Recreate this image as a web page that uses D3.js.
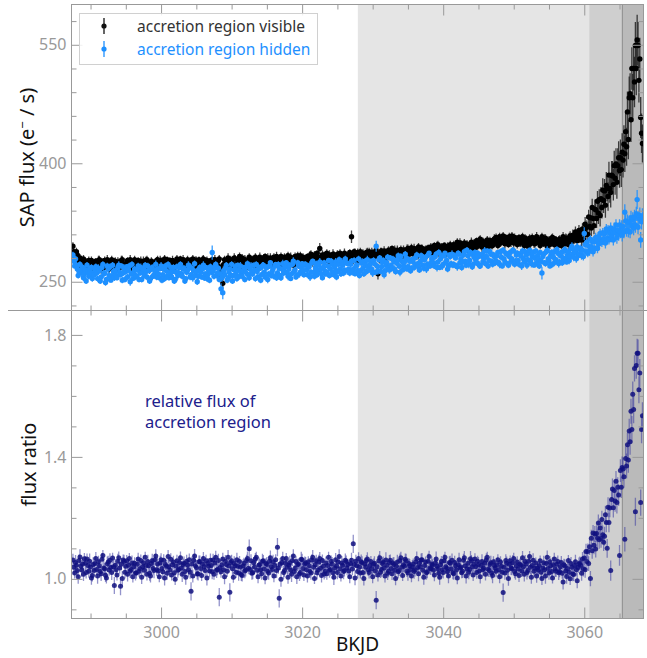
<!DOCTYPE html>
<html>
<head>
<meta charset="utf-8">
<script src="https://cdn.jsdelivr.net/npm/d3@7"></script>
<style>
  body { margin: 0; background: #fff; }
  svg text { font-family: "Noto Sans", sans-serif; }
</style>
</head>
<body>
<svg id="chart" width="647" height="658"></svg>
<script>

//  1] Data --------------------------------------------//

const bkjd = [
  2987.5,2987.625,2987.75,2987.875,2988,2988.125,2988.25,2988.375,2988.5,2988.625,2988.75,2988.875,2989,2989.125,2989.25,2989.375,2989.5,2989.625,2989.75,2989.875,2990,2990.125,2990.25,2990.375,
  2990.5,2990.625,2990.75,2990.875,2991,2991.125,2991.25,2991.375,2991.5,2991.625,2991.75,2991.875,2992,2992.125,2992.25,2992.375,2992.5,2992.625,2992.75,2992.875,2993,2993.125,2993.25,2993.375,
  2993.5,2993.625,2993.75,2993.875,2994,2994.125,2994.25,2994.375,2994.5,2994.625,2994.75,2994.875,2995,2995.125,2995.25,2995.375,2995.5,2995.625,2995.75,2995.875,2996,2996.125,2996.25,2996.375,
  2996.5,2996.625,2996.75,2996.875,2997,2997.125,2997.25,2997.375,2997.5,2997.625,2997.75,2997.875,2998,2998.125,2998.25,2998.375,2998.5,2998.625,2998.75,2998.875,2999,2999.125,2999.25,2999.375,
  2999.5,2999.625,2999.75,2999.875,3000,3000.125,3000.25,3000.375,3000.5,3000.625,3000.75,3000.875,3001,3001.125,3001.25,3001.375,3001.5,3001.625,3001.75,3001.875,3002,3002.125,3002.25,3002.375,
  3002.5,3002.625,3002.75,3002.875,3003,3003.125,3003.25,3003.375,3003.5,3003.625,3003.75,3003.875,3004,3004.125,3004.25,3004.375,3004.5,3004.625,3004.75,3004.875,3005,3005.125,3005.25,3005.375,
  3005.5,3005.625,3005.75,3005.875,3006,3006.125,3006.25,3006.375,3006.5,3006.625,3006.75,3006.875,3007,3007.125,3007.25,3007.375,3007.5,3007.625,3007.75,3007.875,3008,3008.125,3008.25,3008.375,
  3008.5,3008.625,3008.75,3008.875,3009,3009.125,3009.25,3009.375,3009.5,3009.625,3009.75,3009.875,3010,3010.125,3010.25,3010.375,3010.5,3010.625,3010.75,3010.875,3011,3011.125,3011.25,3011.375,
  3011.5,3011.625,3011.75,3011.875,3012,3012.125,3012.25,3012.375,3012.5,3012.625,3012.75,3012.875,3013,3013.125,3013.25,3013.375,3013.5,3013.625,3013.75,3013.875,3014,3014.125,3014.25,3014.375,
  3014.5,3014.625,3014.75,3014.875,3015,3015.125,3015.25,3015.375,3015.5,3015.625,3015.75,3015.875,3016,3016.125,3016.25,3016.375,3016.5,3016.625,3016.75,3016.875,3017,3017.125,3017.25,3017.375,
  3017.5,3017.625,3017.75,3017.875,3018,3018.125,3018.25,3018.375,3018.5,3018.625,3018.75,3018.875,3019,3019.125,3019.25,3019.375,3019.5,3019.625,3019.75,3019.875,3020,3020.125,3020.25,3020.375,
  3020.5,3020.625,3020.75,3020.875,3021,3021.125,3021.25,3021.375,3021.5,3021.625,3021.75,3021.875,3022,3022.125,3022.25,3022.375,3022.5,3022.625,3022.75,3022.875,3023,3023.125,3023.25,3023.375,
  3023.5,3023.625,3023.75,3023.875,3024,3024.125,3024.25,3024.375,3024.5,3024.625,3024.75,3024.875,3025,3025.125,3025.25,3025.375,3025.5,3025.625,3025.75,3025.875,3026,3026.125,3026.25,3026.375,
  3026.5,3026.625,3026.75,3026.875,3027,3027.125,3027.25,3027.375,3027.5,3027.625,3027.75,3027.875,3028,3028.125,3028.25,3028.375,3028.5,3028.625,3028.75,3028.875,3029,3029.125,3029.25,3029.375,
  3029.5,3029.625,3029.75,3029.875,3030,3030.125,3030.25,3030.375,3030.5,3030.625,3030.75,3030.875,3031,3031.125,3031.25,3031.375,3031.5,3031.625,3031.75,3031.875,3032,3032.125,3032.25,3032.375,
  3032.5,3032.625,3032.75,3032.875,3033,3033.125,3033.25,3033.375,3033.5,3033.625,3033.75,3033.875,3034,3034.125,3034.25,3034.375,3034.5,3034.625,3034.75,3034.875,3035,3035.125,3035.25,3035.375,
  3035.5,3035.625,3035.75,3035.875,3036,3036.125,3036.25,3036.375,3036.5,3036.625,3036.75,3036.875,3037,3037.125,3037.25,3037.375,3037.5,3037.625,3037.75,3037.875,3038,3038.125,3038.25,3038.375,
  3038.5,3038.625,3038.75,3038.875,3039,3039.125,3039.25,3039.375,3039.5,3039.625,3039.75,3039.875,3040,3040.125,3040.25,3040.375,3040.5,3040.625,3040.75,3040.875,3041,3041.125,3041.25,3041.375,
  3041.5,3041.625,3041.75,3041.875,3042,3042.125,3042.25,3042.375,3042.5,3042.625,3042.75,3042.875,3043,3043.125,3043.25,3043.375,3043.5,3043.625,3043.75,3043.875,3044,3044.125,3044.25,3044.375,
  3044.5,3044.625,3044.75,3044.875,3045,3045.125,3045.25,3045.375,3045.5,3045.625,3045.75,3045.875,3046,3046.125,3046.25,3046.375,3046.5,3046.625,3046.75,3046.875,3047,3047.125,3047.25,3047.375,
  3047.5,3047.625,3047.75,3047.875,3048,3048.125,3048.25,3048.375,3048.5,3048.625,3048.75,3048.875,3049,3049.125,3049.25,3049.375,3049.5,3049.625,3049.75,3049.875,3050,3050.125,3050.25,3050.375,
  3050.5,3050.625,3050.75,3050.875,3051,3051.125,3051.25,3051.375,3051.5,3051.625,3051.75,3051.875,3052,3052.125,3052.25,3052.375,3052.5,3052.625,3052.75,3052.875,3053,3053.125,3053.25,3053.375,
  3053.5,3053.625,3053.75,3053.875,3054,3054.125,3054.25,3054.375,3054.5,3054.625,3054.75,3054.875,3055,3055.125,3055.25,3055.375,3055.5,3055.625,3055.75,3055.875,3056,3056.125,3056.25,3056.375,
  3056.5,3056.625,3056.75,3056.875,3057,3057.125,3057.25,3057.375,3057.5,3057.625,3057.75,3057.875,3058,3058.125,3058.25,3058.375,3058.5,3058.625,3058.75,3058.875,3059,3059.125,3059.25,3059.375,
  3059.5,3059.625,3059.75,3059.875,3060,3060.125,3060.25,3060.375,3060.5,3060.625,3060.75,3060.875,3061,3061.125,3061.25,3061.375,3061.5,3061.625,3061.75,3061.875,3062,3062.125,3062.25,3062.375,
  3062.5,3062.625,3062.75,3062.875,3063,3063.125,3063.25,3063.375,3063.5,3063.625,3063.75,3063.875,3064,3064.125,3064.25,3064.375,3064.5,3064.625,3064.75,3064.875,3065,3065.125,3065.25,3065.375,
  3065.5,3065.625,3065.75,3065.875,3066,3066.125,3066.25,3066.375,3066.5,3066.625,3066.75,3066.875,3067,3067.125,3067.25,3067.375,3067.5,3067.625,3067.75,3067.875,3068,3068.125,3068.25
];

// SAP flux with the accretion region visible (e-/s)
const visibleFlux = [
  295,288,283,281,288,284,277,274,280,278,269,276,279,270,269,275,273,268,277,274,266,277,274,269,
  267,273,276,268,271,277,278,270,266,275,274,268,277,272,269,278,275,266,268,274,278,271,270,276,
  276,270,266,275,274,268,269,277,278,272,271,266,267,274,277,270,270,278,275,267,268,275,278,271,
  269,274,277,270,266,276,274,268,276,271,268,277,278,272,270,266,267,276,275,269,273,270,266,277,
  278,272,271,277,276,270,267,275,279,272,269,278,274,268,277,271,268,277,275,269,270,276,279,272,
  269,276,279,270,272,278,276,269,267,273,278,271,270,277,275,268,279,272,268,276,277,269,271,278,
  275,270,268,277,279,273,270,275,277,271,267,276,274,268,278,272,269,278,276,270,271,277,279,268,
  262,256,248,272,278,268,271,277,280,273,269,278,276,271,270,280,279,272,273,270,277,282,268,275,
  280,274,271,278,277,271,269,276,281,270,273,279,278,272,270,281,279,275,272,277,281,269,274,279,
  273,279,282,275,271,280,278,272,280,275,270,278,281,276,274,282,279,273,272,278,282,276,271,280,
  281,276,275,280,283,277,272,281,278,274,271,279,282,276,274,283,280,275,283,278,273,281,279,274,
  274,279,282,275,277,283,285,279,275,281,284,277,273,286,281,276,292,281,276,284,283,277,278,285,
  286,280,276,284,282,277,274,285,284,279,278,283,285,276,275,286,283,279,277,284,286,281,279,278,
  280,284,287,281,307,282,277,288,286,280,276,287,285,281,288,283,278,286,283,279,279,287,287,282,
  288,282,279,287,286,280,281,288,290,284,260,283,278,287,289,281,282,289,287,283,280,288,290,285,
  283,289,292,284,281,290,288,283,290,285,280,289,291,282,284,290,289,284,282,291,292,286,285,290,
  293,287,285,292,290,284,282,291,294,288,286,293,292,285,283,290,291,287,284,293,289,291,294,286,
  287,292,296,288,289,295,297,290,285,293,294,289,288,296,295,291,286,295,293,288,297,291,290,296,
  297,292,289,297,300,293,292,299,298,291,288,296,299,293,291,298,295,290,290,298,300,294,292,299,
  293,299,302,295,297,302,304,297,294,301,300,296,292,300,303,297,295,302,301,297,296,303,304,299,
  306,300,296,304,307,299,300,305,308,301,298,306,304,300,297,307,305,300,308,302,299,306,301,304,
  297,303,306,299,299,304,307,300,296,305,304,299,295,302,305,298,300,306,303,299,298,305,307,301,
  304,299,296,303,307,300,298,304,305,299,295,302,303,297,299,305,306,300,297,304,302,298,296,303,
  304,299,296,303,307,301,298,305,304,300,297,306,308,303,301,309,307,304,313,308,302,310,315,306,
  311,303,317,304,314,323,310,319,310,332,320,331,318,344,330,321,342,341,330,352,337,354,334,355,
  344,366,353,365,347,372,368,358,385,368,363,385,384,373,397,381,399,376,397,407,391,407,392,414,
  404,424,412,440,421,465,430,483,488,455,520,483,520,503,549,520,556,549,505,532,458,438,425
];
const visibleErr = [
  5,4,5,6,5,5,4,6,5,5,6,4,5,6,4,5,5,6,5,4,6,5,5,5,
  5,6,4,5,5,6,5,4,6,5,5,5,5,4,5,6,5,5,4,6,5,5,6,4,
  5,4,5,6,5,5,4,6,5,5,6,4,5,6,4,5,5,6,5,4,6,5,5,5,
  5,6,4,5,5,6,5,4,6,5,5,5,5,4,5,6,5,5,4,6,5,5,6,4,
  5,4,5,6,5,5,4,6,5,5,6,4,5,6,4,5,5,6,5,4,6,5,5,5,
  5,6,4,5,5,6,5,4,6,5,5,5,5,4,5,6,5,5,4,6,5,5,6,4,
  5,4,5,6,5,5,4,6,5,5,6,4,5,6,4,5,5,6,5,4,6,5,5,5,
  7,6,7,5,5,6,5,4,6,5,5,5,5,4,5,6,5,5,4,6,5,5,6,4,
  5,4,5,6,5,5,4,6,5,5,6,4,5,6,4,5,5,6,5,4,6,5,5,5,
  5,6,4,5,5,6,5,4,6,5,5,5,5,4,5,6,5,5,4,6,5,5,6,4,
  5,4,5,6,5,5,4,6,5,5,6,4,5,6,4,5,5,6,5,4,6,5,5,5,
  5,6,4,5,5,6,5,4,6,5,5,5,5,4,5,6,7,5,4,6,5,5,6,4,
  5,4,5,6,5,5,4,6,5,5,6,4,5,6,4,5,5,6,5,4,6,5,5,5,
  5,6,4,5,8,6,5,4,6,5,5,5,5,4,5,6,5,5,4,6,5,5,6,4,
  5,4,5,6,5,5,4,6,5,5,7,4,5,6,4,5,5,6,5,4,6,5,5,5,
  5,6,4,5,5,6,5,4,6,5,5,5,5,4,5,6,5,5,4,6,5,5,6,4,
  5,4,5,6,5,5,4,6,5,5,6,4,5,6,4,5,5,6,5,4,6,5,5,5,
  5,6,4,5,5,6,5,4,6,5,5,5,5,4,5,6,5,5,4,6,5,5,6,4,
  5,4,5,6,5,5,4,6,5,5,6,4,5,6,4,5,5,6,5,4,6,5,5,5,
  5,6,4,5,5,6,5,4,6,5,5,5,5,4,5,6,5,5,4,6,5,5,6,4,
  5,4,5,6,5,5,4,6,5,5,6,4,5,6,4,5,5,6,5,4,6,5,5,5,
  5,6,4,5,5,6,5,4,6,5,5,5,5,4,5,6,5,5,4,6,5,5,6,4,
  5,4,5,6,5,5,4,6,5,5,6,4,5,6,4,5,5,6,5,4,6,5,5,5,
  5,6,5,6,6,5,6,6,6,6,6,6,6,6,6,7,7,6,7,7,7,7,7,7,
  7,8,7,8,8,9,8,9,10,9,10,11,10,11,12,11,12,13,12,13,14,13,14,15,
  14,15,16,15,16,17,16,18,17,18,19,18,19,20,19,21,20,21,22,21,22,23,22,24,
  22,24,23,25,24,26,25,27,26,28,27,30,28,32,30,34,32,30,28,27,26,25,24
];

// SAP flux with the accretion region hidden (e-/s)
const hiddenFlux = [
  284,276,270,279,271,266,258,263,272,265,261,268,255,260,265,251,271,262,257,266,262,268,254,259,
  259,265,269,261,254,267,264,251,256,268,272,260,261,249,253,270,266,258,269,252,257,271,263,255,
  264,258,255,268,271,262,259,270,252,261,267,253,263,269,256,265,270,250,260,272,254,262,266,257,
  257,265,270,253,261,268,253,262,266,258,271,263,256,270,264,251,254,266,268,257,259,264,272,256,
  266,260,255,267,270,252,259,266,254,270,264,257,272,255,261,268,256,263,268,251,253,262,269,258,
  261,268,272,260,257,266,267,251,254,262,265,271,270,256,259,267,255,264,273,258,263,250,257,266,
  268,262,256,266,271,255,260,268,254,259,264,252,269,262,287,264,257,268,272,258,261,267,253,260,
  241,255,236,264,259,267,271,252,255,262,266,258,272,251,258,265,269,260,254,271,265,257,270,262,
  257,264,268,253,262,269,273,259,255,266,270,262,260,271,265,254,272,263,256,268,267,252,259,270,
  271,262,256,268,268,253,260,270,274,258,263,266,257,270,272,255,261,272,267,258,255,266,273,261,
  263,269,274,261,257,266,271,254,260,272,276,263,265,256,258,274,270,260,262,268,273,264,259,271,
  272,265,259,270,269,256,262,274,276,262,257,268,273,259,264,271,275,266,260,255,268,274,263,260,
  262,270,277,258,266,276,272,262,259,268,275,256,263,272,278,266,260,275,271,261,265,279,274,264,
  273,266,261,272,276,263,266,277,260,270,271,264,279,258,264,274,275,267,260,276,271,263,278,269,
  265,272,276,266,261,277,273,262,295,270,264,278,280,263,269,275,277,259,264,271,274,281,268,265,
  280,271,267,279,276,266,263,274,278,283,270,262,282,276,265,270,275,285,280,266,269,278,276,264,
  267,276,279,268,272,281,284,273,269,265,276,283,282,271,267,278,281,266,272,284,286,270,274,279,
  280,274,270,282,285,268,275,287,268,279,283,270,272,283,286,275,277,266,270,284,282,273,285,271,
  272,283,280,270,269,286,285,274,279,268,275,284,288,276,271,290,283,272,277,287,285,269,272,281,
  287,278,274,286,282,271,270,283,285,275,279,289,273,282,289,270,277,288,285,276,272,284,282,274,
  276,283,287,274,272,288,281,270,290,279,275,286,285,273,271,282,287,276,279,290,289,272,276,284,
  286,277,272,285,283,270,289,279,275,288,284,271,278,286,290,276,273,282,287,271,280,289,274,283,
  279,270,287,276,261,282,285,274,273,288,290,279,276,270,283,287,272,281,288,275,278,291,286,273,
  275,283,287,274,280,289,291,279,275,284,288,277,282,292,295,285,281,290,288,279,294,283,285,291,
  292,283,290,282,311,297,288,300,286,295,289,304,294,301,288,301,292,306,301,292,307,298,311,303,
  300,312,304,311,299,317,305,315,303,312,318,307,314,303,317,312,322,306,315,310,322,313,320,309,
  320,313,338,327,315,326,314,325,313,331,321,329,318,332,322,336,354,319,330,334,303,326,333
];
const hiddenErr = [
  4,4,3,4,5,4,4,3,4,4,5,4,4,3,4,4,4,5,4,4,3,4,4,5,
  4,3,4,4,4,5,4,4,3,4,4,5,4,4,3,4,5,4,4,3,4,4,5,4,
  4,4,3,4,5,4,4,3,4,4,5,4,4,3,4,4,4,5,4,4,3,4,4,5,
  4,3,4,4,4,5,4,4,3,4,4,5,4,4,3,4,5,4,4,3,4,4,5,4,
  4,4,3,4,5,4,4,3,4,4,5,4,4,3,4,4,4,5,4,4,3,4,4,5,
  4,3,4,4,4,5,4,4,3,4,4,5,4,4,3,4,5,4,4,3,4,4,5,4,
  4,4,3,4,5,4,4,3,4,4,5,4,4,3,9,4,4,5,4,4,3,4,4,5,
  7,5,8,4,4,5,4,4,3,4,4,5,4,4,3,4,5,4,4,3,4,4,5,4,
  4,4,3,4,5,4,4,3,4,4,5,4,4,3,4,4,4,5,4,4,3,4,4,5,
  4,3,4,4,4,5,4,4,3,4,4,5,4,4,3,4,5,4,4,3,4,4,5,4,
  4,4,3,4,5,4,4,3,4,4,5,4,4,3,4,4,4,5,4,4,3,4,4,5,
  4,3,4,4,4,5,4,4,3,4,4,5,4,4,3,4,5,4,4,3,4,4,5,4,
  4,4,3,4,5,4,4,3,4,4,5,4,4,3,4,4,4,5,4,4,3,4,4,5,
  4,3,4,4,4,5,4,4,3,4,4,5,4,4,3,4,5,4,4,3,4,4,5,4,
  4,4,3,4,5,4,4,3,7,4,5,4,4,3,4,4,4,5,4,4,3,4,4,5,
  4,3,4,4,4,5,4,4,3,4,4,5,4,4,3,4,5,4,4,3,4,4,5,4,
  4,4,3,4,5,4,4,3,4,4,5,4,4,3,4,4,4,5,4,4,3,4,4,5,
  4,3,4,4,4,5,4,4,3,4,4,5,4,4,3,4,5,4,4,3,4,4,5,4,
  4,4,3,4,5,4,4,3,4,4,5,4,4,3,4,4,4,5,4,4,3,4,4,5,
  4,3,4,4,4,5,4,4,3,4,4,5,4,4,3,4,5,4,4,3,4,4,5,4,
  4,4,3,4,5,4,4,3,4,4,5,4,4,3,4,4,4,5,4,4,3,4,4,5,
  4,3,4,4,4,5,4,4,3,4,4,5,4,4,3,4,5,4,4,3,4,4,5,4,
  4,4,3,4,8,4,4,3,4,4,5,4,4,3,4,4,4,5,4,4,3,4,4,5,
  4,3,4,4,4,5,4,4,3,4,4,5,4,4,5,4,5,5,4,5,5,5,5,5,
  5,5,5,5,8,5,5,5,5,5,6,5,6,5,6,6,5,6,6,6,6,6,6,6,
  6,6,7,6,7,6,7,7,6,7,7,7,7,7,8,7,7,8,7,8,7,8,8,8,
  8,8,10,8,8,9,8,9,8,9,9,9,9,9,10,9,12,9,10,10,10,10,10
];

// relative flux of the accretion region
const fluxRatio = [
  1.062,1.038,1.019,1.054,1.045,1.027,1.007,1.060,1.072,1.041,1.029,1.049,1.015,1.066,1.051,1.021,1.065,1.044,1.025,1.058,1.039,1.003,1.011,1.047,
  1.027,1.050,1.067,1.031,1.009,1.056,1.043,1.024,1.017,1.064,1.077,1.036,1.033,1.012,1.003,1.049,1.055,1.029,1.061,1.037,1.021,1.068,1.040,0.978,
  1.045,1.030,1.013,1.058,1.069,1.036,0.976,1.048,1.001,1.062,1.057,1.022,1.041,1.059,1.015,1.045,1.067,1.026,1.031,1.052,1.007,1.040,1.051,1.019,
  1.019,1.048,1.065,1.025,1.033,1.060,1.005,1.039,1.053,1.028,1.071,1.044,1.015,1.057,1.043,1.018,1.009,1.050,1.059,1.034,1.027,1.063,1.075,1.030,
  1.049,1.026,1.007,1.052,1.063,1.034,1.023,1.061,1.003,1.047,1.041,1.018,1.073,1.040,1.029,1.064,1.013,1.046,1.055,1.020,0.999,1.042,1.059,1.028,
  1.031,1.054,1.069,1.036,1.015,1.047,1.051,1.024,1.005,1.058,1.045,1.030,1.063,1.022,0.959,1.049,1.009,1.061,1.075,1.043,1.037,1.016,1.017,1.056,
  1.057,1.034,1.011,1.049,1.067,1.040,1.027,1.059,1.003,1.050,1.041,1.026,1.061,1.044,1.023,1.062,1.015,1.052,1.071,1.028,1.031,1.060,0.940,1.037,
  1.023,1.046,1.065,1.030,1.007,1.058,1.047,1.025,1.071,1.042,0.956,1.054,1.059,1.033,1.005,1.050,1.043,1.022,1.063,1.041,1.019,1.057,1.039,1.014,
  1.011,1.042,1.051,1.026,1.029,1.060,1.067,1.035,1.099,1.031,1.059,1.018,1.021,1.053,1.039,1.065,1.071,1.028,1.007,1.045,1.047,1.030,1.017,1.058,
  1.059,1.032,1.003,1.050,1.047,1.025,1.019,1.058,1.069,1.040,1.031,1.056,1.009,1.044,1.063,1.027,1.104,1.036,0.936,1.048,0.999,1.054,1.067,1.021,
  1.027,1.051,1.067,1.038,1.005,1.045,1.053,1.029,1.015,1.060,1.075,1.024,1.035,1.057,1.007,1.046,1.049,1.016,1.021,1.064,1.063,1.034,1.013,1.049,
  1.053,1.030,1.009,1.056,1.043,1.024,1.019,1.062,1.071,1.038,1.001,1.046,1.059,1.020,1.029,1.055,1.067,1.035,1.011,1.060,1.041,1.016,1.025,1.052,
  1.017,1.044,1.071,1.028,1.031,1.058,1.049,1.020,1.005,1.036,1.063,1.042,1.021,1.055,1.073,1.033,1.009,1.052,1.045,1.024,1.027,1.061,1.057,1.036,
  1.047,1.026,1.007,1.050,1.061,1.032,1.115,1.047,1.003,1.058,1.043,1.024,1.067,1.039,1.019,1.056,1.053,1.021,1.001,1.049,1.039,1.060,1.065,1.030,
  1.021,1.044,1.057,1.033,1.007,1.048,1.051,1.026,0.930,1.040,1.013,1.059,1.069,1.022,1.031,1.050,1.055,1.036,1.009,1.062,1.045,1.018,1.025,1.054,
  1.061,1.034,1.017,1.052,1.047,1.028,1.001,1.041,1.055,1.023,1.027,1.060,1.069,1.038,1.011,1.046,1.041,1.064,1.059,1.026,1.019,1.050,1.043,1.031,
  1.009,1.040,1.049,1.024,1.029,1.056,1.067,1.037,1.017,1.051,1.039,1.062,1.063,1.028,1.005,1.044,1.055,1.020,1.023,1.058,1.073,1.036,1.033,1.049,
  1.045,1.028,1.013,1.052,1.065,1.041,1.033,1.018,1.005,1.046,1.057,1.030,1.021,1.059,1.071,1.040,1.035,1.024,1.009,1.054,1.051,1.032,1.061,1.020,
  1.017,1.054,1.043,1.029,1.003,1.046,1.063,1.036,1.039,1.020,1.025,1.061,1.069,1.042,1.009,1.033,1.051,1.022,1.031,1.066,1.059,1.040,1.013,1.048,
  1.065,1.040,1.021,1.058,1.047,1.026,1.007,1.044,1.057,1.030,1.035,1.051,1.015,1.062,1.071,1.032,1.027,1.047,1.053,1.019,1.011,1.056,1.043,1.036,
  1.025,1.046,1.063,1.030,1.007,1.055,1.041,1.022,0.955,1.038,1.019,1.060,1.051,1.028,1.001,1.048,1.059,1.036,1.033,1.053,1.067,1.024,1.017,1.042,
  1.055,1.032,1.011,1.048,1.045,1.026,1.069,1.040,1.015,1.057,1.049,1.021,1.027,1.058,1.073,1.038,1.005,1.044,1.061,1.025,1.035,1.052,1.009,1.036,
  1.029,1.044,1.059,1.022,1.001,1.036,1.053,1.030,1.009,1.050,1.071,1.034,1.019,1.056,1.043,1.024,1.003,1.046,1.065,1.032,1.025,1.048,1.057,1.020,
  1.024,1.040,1.054,1.018,0.990,1.046,1.042,1.026,1.008,1.034,1.060,1.022,1.000,1.050,1.038,1.016,1.014,1.044,1.056,1.030,0.994,1.037,1.048,1.052,
  1.045,1.018,1.065,1.033,1.068,1.030,1.090,1.057,1.090,1.050,1.105,1.001,1.133,1.092,1.150,1.110,1.147,1.098,1.149,1.134,1.183,1.128,1.167,1.132,
  1.195,1.145,1.120,1.140,1.210,1.185,1.100,1.235,1.185,1.232,1.027,1.260,1.295,1.233,1.290,1.255,1.320,1.250,1.300,1.275,1.077,1.355,1.300,1.365,
  1.360,1.335,1.130,1.395,1.370,1.440,1.390,1.485,1.450,1.550,1.490,1.605,1.555,1.690,1.220,1.700,1.740,1.740,1.620,1.675,1.250,1.490,1.535
];
// ratio uncertainties, in thousandths
const ratioErr = [
  20,22,18,24,21,19,23,20,25,18,22,21,22,19,24,20,18,23,21,25,19,22,20,24,
  19,23,21,18,25,20,22,19,24,21,18,23,20,22,18,24,21,19,23,20,25,18,22,28,
  20,22,18,24,21,19,30,20,25,18,22,21,22,19,24,20,18,23,21,25,19,22,20,24,
  19,23,21,18,25,20,22,19,24,21,18,23,20,22,18,24,21,19,23,20,25,18,22,21,
  20,22,18,24,21,19,23,20,25,18,22,21,22,19,24,20,18,23,21,25,19,22,20,24,
  19,23,21,18,25,20,22,19,24,21,18,23,20,22,30,24,21,19,23,20,25,18,22,21,
  20,22,18,24,21,19,23,20,25,18,22,21,22,19,24,20,18,23,21,25,19,22,30,24,
  19,23,21,18,25,20,22,19,24,21,30,23,20,22,18,24,21,19,23,20,25,18,22,21,
  20,22,18,24,21,19,23,20,30,18,22,21,22,19,24,20,18,23,21,25,19,22,20,24,
  19,23,21,18,25,20,22,19,24,21,18,23,20,22,18,24,30,19,30,20,25,18,22,21,
  20,22,18,24,21,19,23,20,25,18,22,21,22,19,24,20,18,23,21,25,19,22,20,24,
  19,23,21,18,25,20,22,19,24,21,18,23,20,22,18,24,21,19,23,20,25,18,22,21,
  20,22,18,24,21,19,23,20,25,18,22,21,22,19,24,20,18,23,21,25,19,22,20,24,
  19,23,21,18,25,20,30,19,24,21,18,23,20,22,18,24,21,19,23,20,25,18,22,21,
  20,22,18,24,21,19,23,20,30,18,22,21,22,19,24,20,18,23,21,25,19,22,20,24,
  19,23,21,18,25,20,22,19,24,21,18,23,20,22,18,24,21,19,23,20,25,18,22,21,
  20,22,18,24,21,19,23,20,25,18,22,21,22,19,24,20,18,23,21,25,19,22,20,24,
  19,23,21,18,25,20,22,19,24,21,18,23,20,22,18,24,21,19,23,20,25,18,22,21,
  20,22,18,24,21,19,23,20,25,18,22,21,22,19,24,20,18,23,21,25,19,22,20,24,
  19,23,21,18,25,20,22,19,24,21,18,23,20,22,18,24,21,19,23,20,25,18,22,21,
  20,22,18,24,21,19,23,20,30,18,22,21,22,19,24,20,18,23,21,25,19,22,20,24,
  19,23,21,18,25,20,22,19,24,21,18,23,20,22,18,24,21,19,23,20,25,18,22,21,
  20,22,18,24,21,19,23,20,25,18,22,21,22,19,24,20,18,23,21,25,19,22,20,24,
  19,23,21,18,25,20,22,19,24,21,18,23,20,22,18,24,21,19,23,20,25,18,22,21,
  22,24,23,25,24,26,25,27,26,24,27,25,28,26,27,29,26,28,27,30,28,29,27,30,
  28,30,29,31,30,32,31,33,32,30,33,31,34,32,33,35,34,36,33,35,34,37,35,36,
  38,36,40,39,41,38,42,40,43,41,44,42,45,43,46,44,47,45,44,46,43,45,44
];

// shaded intervals start at these BKJD
const shadeStarts = [3027.9, 3060.7, 3065.4];

const xMajorTicks = [3000, 3020, 3040, 3060];
const xMinorTicks = [2990, 2995, 3005, 3010, 3015, 3025, 3030, 3035, 3045, 3050, 3055, 3065];
const fluxMajorTicks = [250, 400, 550];
const fluxMinorTicks = [220, 280, 310, 340, 370, 430, 460, 490, 520, 580];
const ratioMajorTicks = [1.0, 1.4, 1.8];
const ratioMinorTicks = [0.9, 1.1, 1.2, 1.3, 1.5, 1.6, 1.7];

const legendLabels = ["accretion region visible", "accretion region hidden"];
const noteLines = ["relative flux of", "accretion region"];

//  2] Layout and scales -------------------------------//

const left = 71.5, right = 643.5;
const topY = 4.5, midY = 310.5, botY = 618.5;
const frameColor = "#999";

const svg = d3.select("#chart");

const x = d3.scaleLinear().domain([2987.3, 3068.4]).range([left, right]);
const yFlux = d3.scaleLinear().domain([213.6, 601]).range([midY, topY]);
const yRatio = d3.scaleLinear().domain([0.87, 1.88]).range([botY, midY]);

const visible = bkjd.map((t, i) => ({ t, v: visibleFlux[i], e: visibleErr[i] }));
const hidden = bkjd.map((t, i) => ({ t, v: hiddenFlux[i], e: hiddenErr[i] }));
const ratio = bkjd.map((t, i) => ({ t, v: fluxRatio[i], e: ratioErr[i] / 1000 }));

const defs = svg.append("defs");
defs.append("clipPath").attr("id", "clipTop").append("rect")
  .attr("x", left).attr("y", topY).attr("width", right - left).attr("height", midY - topY);
defs.append("clipPath").attr("id", "clipBot").append("rect")
  .attr("x", left).attr("y", midY).attr("width", right - left).attr("height", botY - midY);

//  3] Shaded regions ----------------------------------//

const shadeEnds = [shadeStarts[1], shadeStarts[2], x.domain()[1]];
const shadeFill = ["#e5e5e5", "#cfcfcf", "#bababa"];
svg.append("g").selectAll("rect").data(shadeStarts).join("rect")
  .attr("x", d => x(d))
  .attr("width", (d, i) => x(shadeEnds[i]) - x(d))
  .attr("y", topY).attr("height", botY - topY)
  .attr("fill", (d, i) => shadeFill[i]);

svg.append("line")
  .attr("x1", x(shadeStarts[2])).attr("x2", x(shadeStarts[2]))
  .attr("y1", topY).attr("y2", botY)
  .attr("stroke", "#8a8a8a").attr("stroke-width", 1);

//  4] Error bar series --------------------------------//

function drawSeries(clip, pts, yScale, o) {
  const g = svg.append("g").attr("clip-path", `url(#${clip})`);
  g.selectAll("line").data(pts).join("line")
    .attr("x1", d => x(d.t)).attr("x2", d => x(d.t))
    .attr("y1", d => yScale(d.v - d.e)).attr("y2", d => yScale(d.v + d.e))
    .attr("stroke", o.bar).attr("stroke-width", 1.3).attr("stroke-opacity", o.barOpacity);
  g.selectAll("circle").data(pts).join("circle")
    .attr("cx", d => x(d.t)).attr("cy", d => yScale(d.v))
    .attr("r", o.r).attr("fill", o.fill).attr("fill-opacity", o.dotOpacity);
}

drawSeries("clipTop", visible, yFlux, { bar: "#222", barOpacity: 0.85, fill: "#000", dotOpacity: 1, r: 2.7 });
drawSeries("clipTop", hidden, yFlux, { bar: "#1e90ff", barOpacity: 0.9, fill: "#1e90ff", dotOpacity: 1, r: 2.7 });
drawSeries("clipBot", ratio, yRatio, { bar: "#3a3aa0", barOpacity: 0.55, fill: "#10107f", dotOpacity: 0.85, r: 2.5 });

//  5] Frames and inward ticks -------------------------//

function addAxis(axis, tx, ty) {
  const g = svg.append("g").attr("transform", `translate(${tx},${ty})`).call(axis);
  g.select(".domain").remove();
  g.attr("color", frameColor).attr("font-size", 16).attr("font-family", "'Noto Sans', sans-serif");
  return g;
}

function panelTicks(yScale, major, minor, fmt, y0, y1, xLabels) {
  addAxis(d3.axisLeft(yScale).tickValues(major).tickSize(-11).tickPadding(5).tickFormat(fmt), left, 0);
  addAxis(d3.axisLeft(yScale).tickValues(minor).tickSize(-5).tickFormat(""), left, 0);
  addAxis(d3.axisRight(yScale).tickValues(major).tickSize(-11).tickFormat(""), right, 0);
  addAxis(d3.axisRight(yScale).tickValues(minor).tickSize(-5).tickFormat(""), right, 0);
  addAxis(d3.axisTop(x).tickValues(xMajorTicks).tickSize(-11).tickFormat(""), 0, y0);
  addAxis(d3.axisTop(x).tickValues(xMinorTicks).tickSize(-5).tickFormat(""), 0, y0);
  addAxis(d3.axisBottom(x).tickValues(xMajorTicks).tickSize(-11).tickPadding(8)
    .tickFormat(xLabels ? d3.format("d") : ""), 0, y1);
  addAxis(d3.axisBottom(x).tickValues(xMinorTicks).tickSize(-5).tickFormat(""), 0, y1);
}

panelTicks(yFlux, fluxMajorTicks, fluxMinorTicks, d3.format("d"), topY, midY, false);
panelTicks(yRatio, ratioMajorTicks, ratioMinorTicks, d3.format(".1f"), midY, botY, true);

svg.append("rect")
  .attr("x", left).attr("y", topY).attr("width", right - left).attr("height", botY - topY)
  .attr("fill", "none").attr("stroke", frameColor);
svg.append("line")
  .attr("x1", 8).attr("x2", 647).attr("y1", midY).attr("y2", midY)
  .attr("stroke", frameColor);

//  6] Axis titles -------------------------------------//

const fluxTitle = svg.append("text")
  .attr("transform", `translate(34,${(topY + midY) / 2}) rotate(-90)`)
  .attr("text-anchor", "middle").attr("font-size", 20).attr("fill", "#111");
fluxTitle.append("tspan").text("SAP flux (e");
fluxTitle.append("tspan").attr("dy", -7).attr("font-size", 13).text("\u2212");
fluxTitle.append("tspan").attr("dy", 7).text(" / s)");

svg.append("text")
  .attr("transform", `translate(36,${(midY + botY) / 2}) rotate(-90)`)
  .attr("text-anchor", "middle").attr("font-size", 20).attr("fill", "#111")
  .text("flux ratio");

svg.append("text")
  .attr("x", (left + right) / 2).attr("y", 651)
  .attr("text-anchor", "middle").attr("font-size", 19).attr("fill", "#111")
  .text("BKJD");

//  7] Legend and note ---------------------------------//

const legend = svg.append("g");
legend.append("rect")
  .attr("x", 79.5).attr("y", 13.5).attr("width", 238).attr("height", 51)
  .attr("fill", "#fff").attr("fill-opacity", 0.85).attr("stroke", "#d0d0d0");
const legendColors = ["#111", "#1e90ff"];
legendLabels.forEach((label, i) => {
  const cy = 26 + i * 23;
  legend.append("line").attr("x1", 104).attr("x2", 104).attr("y1", cy - 8).attr("y2", cy + 8)
    .attr("stroke", legendColors[i]).attr("stroke-width", 1.3);
  legend.append("circle").attr("cx", 104).attr("cy", cy).attr("r", 2.6).attr("fill", legendColors[i]);
  legend.append("text").attr("x", 137).attr("y", cy + 5.5)
    .attr("font-size", 15.5).attr("fill", i === 0 ? "#333" : legendColors[i])
    .text(label);
});

svg.append("g").selectAll("text").data(noteLines).join("text")
  .attr("x", 145).attr("y", (d, i) => 407 + i * 21)
  .attr("font-size", 16.5).attr("fill", "#20208c")
  .text(d => d);

</script>
</body>
</html>
